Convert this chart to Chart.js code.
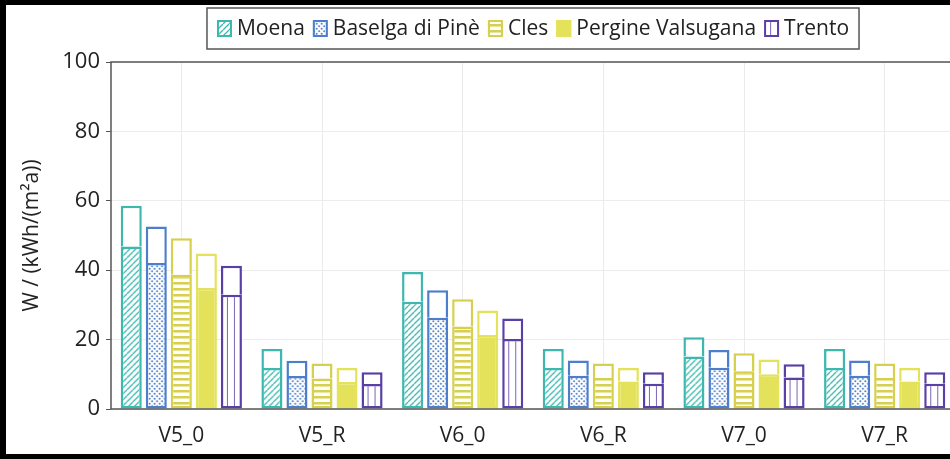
<!DOCTYPE html>
<html>
<head>
<meta charset="utf-8">
<script src="https://cdn.jsdelivr.net/npm/chart.js@4.4.1/dist/chart.umd.min.js"></script>
<style>
  html, body { margin: 0; padding: 0; background: #000; width: 950px; height: 459px; overflow: hidden; }
  #frame { position: absolute; left: 6px; top: 5px; width: 944px; height: 449px; background: #fff; overflow: hidden; }
  #c { position: absolute; left: -6px; top: -5px; }
</style>
</head>
<body>
<div id="frame"><canvas id="c" width="962" height="459"></canvas></div>
<script>
// Variants on the x axis and the five locations
const categories = ['V5_0', 'V5_R', 'V6_0', 'V6_R', 'V7_0', 'V7_R'];
const locations = ['Moena', 'Baselga di Pinè', 'Cles', 'Pergine Valsugana', 'Trento'];

// Patterned lower part of each bar, and the full bar height (kWh/(m²a))
const moenaBase     = [46.8, 11.8, 30.9, 11.8, 15.1, 11.8];
const moenaTotal    = [58.6, 17.3, 39.5, 17.3, 20.7, 17.3];
const baselgaBase   = [42.1,  9.5, 26.3,  9.6, 11.9,  9.6];
const baselgaTotal  = [52.6, 13.9, 34.2, 14.0, 17.0, 14.0];
const clesBase      = [38.7,  8.8, 23.8,  8.9, 10.9,  8.9];
const clesTotal     = [49.2, 13.1, 31.6, 13.1, 16.1, 13.1];
const pergineBase   = [34.9,  7.8, 21.3,  7.9, 10.0,  7.9];
const pergineTotal  = [44.8, 11.8, 28.4, 11.8, 14.3, 11.8];
const trentoBase    = [32.9,  7.2, 20.2,  7.3,  9.1,  7.3];
const trentoTotal   = [41.3, 10.6, 26.1, 10.6, 12.9, 10.6];

const yTicks = [0, 20, 40, 60, 80, 100];

const bases  = [moenaBase, baselgaBase, clesBase, pergineBase, trentoBase];
const totals = [moenaTotal, baselgaTotal, clesTotal, pergineTotal, trentoTotal];
const colors = ['#3db8ae', '#4d7ecb', '#d6d04c', '#e4e25a', '#5a3fa6'];
const fills  = ['diag', 'dots', 'hlines', 'solid', 'vlines'];

const CAT_PCT = 0.89, BAR_PCT = 0.84;
const FONT = '"Open Sans", "Noto Sans", sans-serif';

// Fill patterns for the lower part of the bars
function makePattern(kind, color, offsetX) {
  const t = document.createElement('canvas');
  let w = 6, h = 6;
  if (kind === 'dots') { w = 5; h = 5; }
  if (kind === 'vlines') { w = 7; h = 4; }
  if (kind === 'hlines') { w = 4; h = 6; }
  t.width = w; t.height = h;
  const g = t.getContext('2d');
  g.fillStyle = '#fff';
  g.fillRect(0, 0, w, h);
  g.strokeStyle = color;
  g.fillStyle = color;
  if (kind === 'diag') {
    g.lineWidth = 1.3;
    g.beginPath();
    for (const o of [-w, 0, w]) { g.moveTo(o, h); g.lineTo(o + w, 0); }
    g.stroke();
  } else if (kind === 'dots') {
    g.beginPath(); g.arc(1.25, 1.25, 1.0, 0, Math.PI * 2); g.fill();
    g.beginPath(); g.arc(3.75, 3.75, 1.0, 0, Math.PI * 2); g.fill();
  } else if (kind === 'hlines') {
    g.fillRect(0, 0, w, 2.5);
  } else if (kind === 'vlines') {
    g.fillRect(6.2, 0, 1.6, h);
  } else {
    g.fillRect(0, 0, w, h);
  }
  const p = g.createPattern(t, 'repeat');
  p.setTransform(new DOMMatrix().translate(offsetX, 0));
  return p;
}

// Left edge of the bar for a location inside a category slot
function barLeft(chart, dataIndex, stackIndex) {
  const x = chart.scales.x;
  const center = x.getPixelForValue(dataIndex);
  const step = x.getPixelForValue(1) - x.getPixelForValue(0);
  const thickness = step * CAT_PCT;
  const size = thickness / locations.length;
  return center - thickness / 2 + size * stackIndex + size * (1 - BAR_PCT) / 2;
}

const datasets = [];
locations.forEach((loc, i) => {
  datasets.push({
    label: loc,
    stack: loc,
    data: bases[i],
    borderColor: colors[i],
    borderWidth: 2.5,
    borderSkipped: false,
    backgroundColor: (ctx) => {
      if (ctx.type !== 'data') return colors[i];
      return makePattern(fills[i], colors[i], barLeft(ctx.chart, ctx.dataIndex, i));
    }
  });
  datasets.push({
    label: loc + ' ',
    stack: loc,
    data: totals[i].map((t, k) => +(t - bases[i][k]).toFixed(2)),
    borderColor: colors[i],
    borderWidth: 2.5,
    borderSkipped: 'start',
    backgroundColor: '#ffffff'
  });
});

// Boxed legend centred over the plot, plus the frame round the plot area
const framePlugin = {
  id: 'frameAndLegend',
  afterDatasetsDraw(chart) {
    const { ctx, chartArea: a } = chart;
    ctx.save();
    ctx.strokeStyle = '#555';
    ctx.lineWidth = 1.5;
    ctx.strokeRect(a.left, a.top, a.right - a.left, a.bottom - a.top);
    ctx.restore();
  },
  afterDraw(chart) {
    const { ctx, chartArea: a } = chart;
    ctx.save();
    ctx.font = '21px ' + FONT;
    const sw = 15, sh = 17, gapText = 5, gapItem = 8, padX = 10;
    const widths = locations.map(l => ctx.measureText(l).width);
    const total = padX * 2 + widths.reduce((s, v) => s + v, 0) +
      locations.length * (sw + gapText) + (locations.length - 1) * gapItem;
    const cx = (a.left + a.right) / 2;
    const top = 8, bottom = 49, mid = (top + bottom) / 2;
    let x = cx - total / 2;
    ctx.fillStyle = '#fff';
    ctx.fillRect(x, top, total, bottom - top);
    ctx.strokeStyle = '#555';
    ctx.lineWidth = 1.5;
    ctx.strokeRect(x, top, total, bottom - top);
    x += padX;
    locations.forEach((loc, i) => {
      ctx.fillStyle = makePattern(fills[i], colors[i], x);
      ctx.fillRect(x, mid - sh / 2, sw, sh);
      ctx.strokeStyle = colors[i];
      ctx.lineWidth = 2;
      ctx.strokeRect(x + 1, mid - sh / 2 + 1, sw - 2, sh - 2);
      x += sw + gapText;
      ctx.fillStyle = '#222';
      ctx.textBaseline = 'middle';
      ctx.textAlign = 'left';
      ctx.fillText(loc, x, mid + 1);
      x += widths[i] + gapItem;
    });
    ctx.restore();
  }
};

new Chart(document.getElementById('c'), {
  type: 'bar',
  data: { labels: categories, datasets },
  plugins: [framePlugin],
  options: {
    responsive: false,
    animation: false,
    devicePixelRatio: 1,
    events: [],
    layout: { padding: { top: 62, right: 7, bottom: 0, left: 0 } },
    datasets: { bar: { categoryPercentage: CAT_PCT, barPercentage: BAR_PCT } },
    plugins: { legend: { display: false }, tooltip: { enabled: false } },
    scales: {
      x: {
        stacked: true,
        afterFit: (s) => { s.height = 50; },
        grid: { color: '#ebebeb', offset: false, drawTicks: false },
        border: { display: false },
        ticks: { color: '#222', padding: 14, font: { family: FONT, size: 21 } }
      },
      y: {
        stacked: true,
        min: 0,
        max: 100,
        afterFit: (s) => { s.width = 111; },
        afterBuildTicks: (s) => { s.ticks = yTicks.map(v => ({ value: v })); },
        grid: { color: '#ececec', tickColor: '#555', tickLength: 5 },
        border: { display: false },
        ticks: { color: '#222', padding: 6, font: { family: FONT, size: 22 } },
        title: {
          display: true,
          text: 'W / (kWh/(m²a))',
          color: '#222',
          padding: { top: 19, bottom: 0 },
          font: { family: FONT, size: 21 }
        }
      }
    }
  }
});
</script>
</body>
</html>
